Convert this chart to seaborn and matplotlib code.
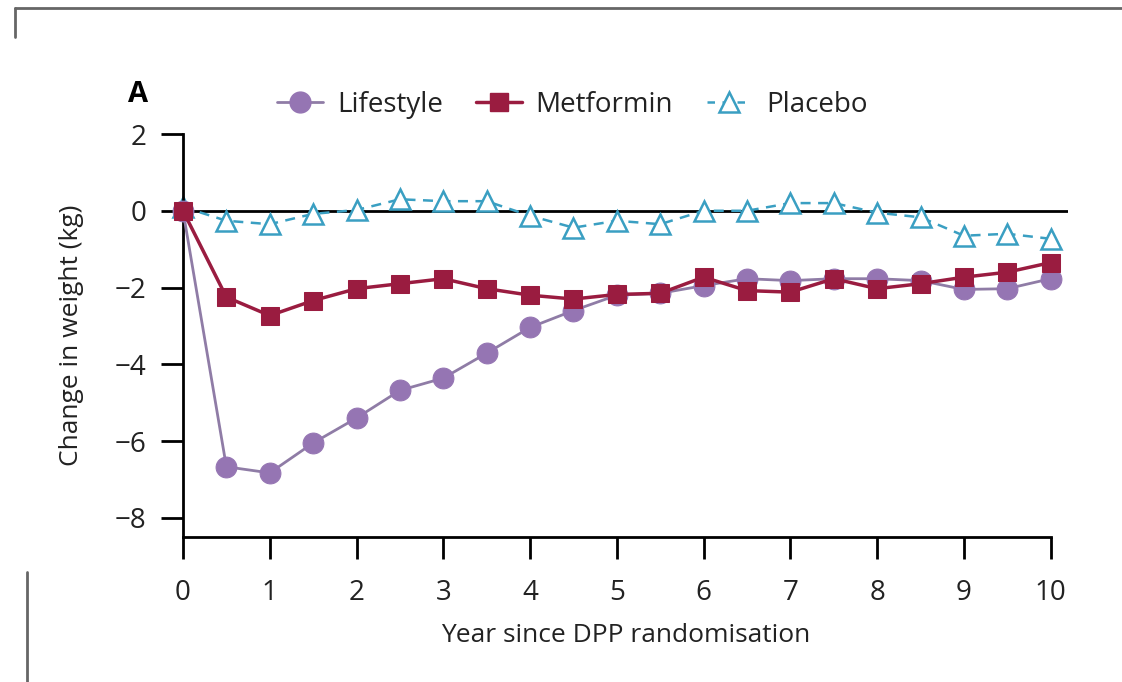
import matplotlib
matplotlib.use("Agg")
import matplotlib.pyplot as plt
from matplotlib.lines import Line2D
import seaborn as sns
import pandas as pd

years = [0, 0.5, 1, 1.5, 2, 2.5, 3, 3.5, 4, 4.5, 5, 5.5, 6, 6.5, 7, 7.5, 8, 8.5, 9, 9.5, 10]
lifestyle = [0, -6.67, -6.83, -6.05, -5.4, -4.68, -4.36, -3.71, -3.04, -2.6, -2.2, -2.15,
             -1.95, -1.77, -1.82, -1.77, -1.77, -1.82, -2.05, -2.03, -1.77]
metformin = [0, -2.25, -2.73, -2.34, -2.03, -1.9, -1.77, -2.03, -2.2, -2.3, -2.18, -2.15,
             -1.73, -2.08, -2.12, -1.77, -2.03, -1.9, -1.73, -1.6, -1.35]
placebo = [0.1, -0.26, -0.35, -0.08, 0.02, 0.3, 0.25, 0.25, -0.13, -0.44, -0.26, -0.35,
           0.0, 0.0, 0.2, 0.2, -0.05, -0.17, -0.65, -0.6, -0.73]
series_names = ["Lifestyle", "Metformin", "Placebo"]
x_ticks = [0, 1, 2, 3, 4, 5, 6, 7, 8, 9, 10]
y_ticks = [2, 0, -2, -4, -6, -8]

sns.set_theme(style="white")
plt.rcParams['font.family'] = ['Open Sans', 'DejaVu Sans']

df = pd.DataFrame({"year": years, "Lifestyle": lifestyle,
                   "Metformin": metformin, "Placebo": placebo})

fig = plt.figure(figsize=(11.22, 6.82), dpi=100)
ax = fig.add_axes([0.1631, 0.2126, 0.7888, 0.5909])

ax.axhline(0, color="black", lw=2, zorder=1)

c_life_line = "#8f7ca6"
c_life = "#9575b3"
c_met = "#9a1c40"
c_pla = "#3a9fc2"

sns.lineplot(data=df, x="year", y="Lifestyle", ax=ax, color=c_life_line, lw=2,
             marker="o", markersize=15, markerfacecolor=c_life, markeredgecolor=c_life,
             clip_on=False, zorder=3)
sns.lineplot(data=df, x="year", y="Metformin", ax=ax, color=c_met, lw=2.5,
             marker="s", markersize=13, markerfacecolor=c_met, markeredgecolor=c_met,
             clip_on=False, zorder=4)
sns.lineplot(data=df, x="year", y="Placebo", ax=ax, color=c_pla, lw=1.8,
             linestyle=(0, (4, 3)), marker="^", markersize=14, markerfacecolor="white",
             markeredgecolor=c_pla, markeredgewidth=1.8, clip_on=False, zorder=2)

ax.set_xlim(0, 10.2)
ax.set_ylim(-8.5, 2.0)
ax.set_xticks(x_ticks)
ax.set_xticklabels([str(t) for t in x_ticks])
ax.set_yticks(y_ticks)
ax.set_yticklabels(["2", "0", "\u22122", "\u22124", "\u22126", "\u22128"])

for s in ["top", "right"]:
    ax.spines[s].set_visible(False)
for s in ["left", "bottom"]:
    ax.spines[s].set_color("black")
    ax.spines[s].set_linewidth(2)
ax.spines["bottom"].set_bounds(0, 10)
ax.tick_params(axis="both", which="major", direction="out", length=15.5, width=2,
               color="black", labelsize=20, labelcolor="#222222",
               bottom=True, left=True)
ax.tick_params(axis="x", pad=15)
ax.tick_params(axis="y", pad=11)
ax.grid(False)

ax.set_xlabel("Year since DPP randomisation", fontsize=19, color="#222222", labelpad=11)
ax.set_ylabel("Change in weight (kg)", fontsize=19, color="#222222", labelpad=22)

handles = [
    Line2D([], [], color=c_life_line, lw=2, marker="o", markersize=15,
           markerfacecolor=c_life, markeredgecolor=c_life),
    Line2D([], [], color=c_met, lw=2.5, marker="s", markersize=13,
           markerfacecolor=c_met, markeredgecolor=c_met),
    Line2D([], [], color=c_pla, lw=1.8, linestyle=(0, (3, 3)), marker="^", markersize=14,
           markerfacecolor="white", markeredgecolor=c_pla, markeredgewidth=1.8),
]
ax.legend(handles, series_names, loc="lower left", bbox_to_anchor=(0.089, 1.0),
          ncol=3, frameon=False, fontsize=20, handlelength=1.65, handletextpad=0.5,
          columnspacing=1.2, borderaxespad=0.15, labelcolor="#222222")

fig.text(138 / 1122, 1 - 95 / 682, "A", fontsize=21, fontweight="bold",
         ha="center", va="center", color="black")

# page frame fragments
gray = "#666666"
fig.add_artist(Line2D([15 / 1122, 1.0], [1 - 8 / 682, 1 - 8 / 682], color=gray, lw=2))
fig.add_artist(Line2D([15 / 1122, 15 / 1122], [1 - 8 / 682, 1 - 37 / 682], color=gray, lw=2))
fig.add_artist(Line2D([27 / 1122, 27 / 1122], [1 - 572 / 682, 0.0], color=gray, lw=2))

fig.savefig("out.png", dpi=100, facecolor="white")
